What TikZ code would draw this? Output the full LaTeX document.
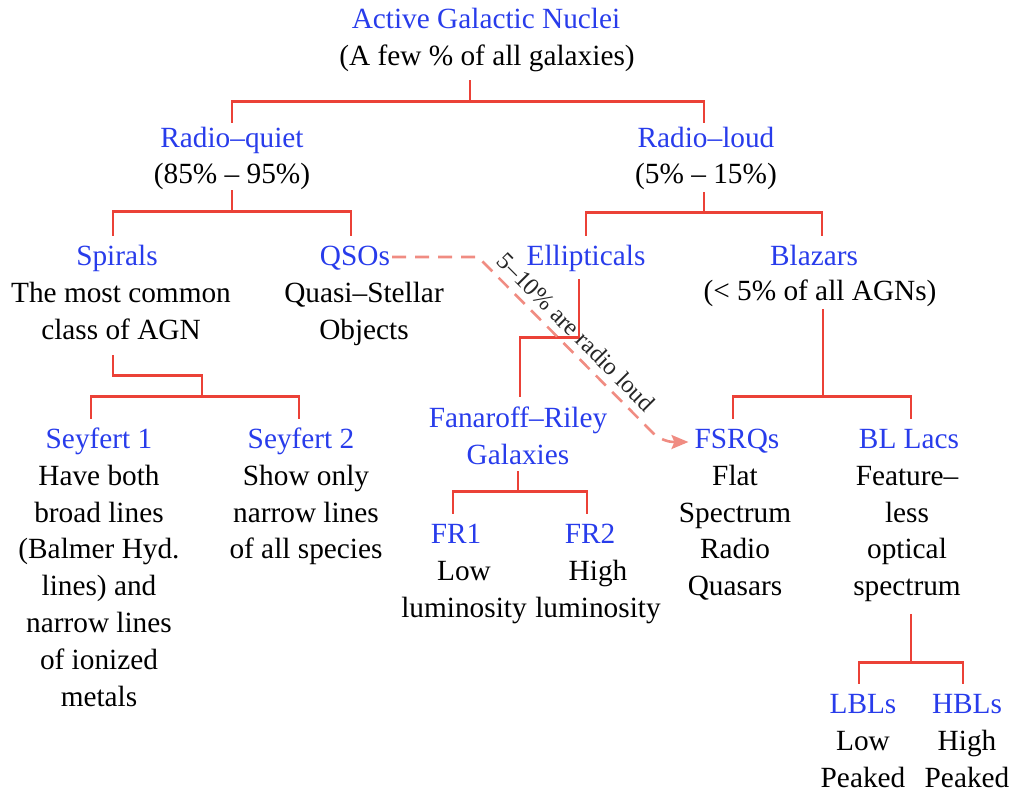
\documentclass[tikz,border=0pt]{standalone}
\usepackage{fontspec}
\setmainfont{Liberation Serif}
\usetikzlibrary{arrows.meta}
\definecolor{agnblue}{RGB}{40,60,235}
\definecolor{agnred}{RGB}{235,65,55}
\definecolor{agnpink}{RGB}{240,140,130}
\newcommand\topstr{\rule{0pt}{25pt}}
\newcommand\botstr{\rule[-7pt]{0pt}{7pt}}
\begin{document}
\begin{tikzpicture}[x=1pt,y=-1pt,
  basetxt/.style={inner sep=0pt, font=\fontsize{29.3}{36.8}\selectfont},
  ttl/.style={basetxt, text=agnblue, anchor=base, text height=29pt, text depth=7pt},
  desc/.style={basetxt, align=center, anchor=north},
  tree/.style={draw=agnred, line width=2.8pt},
  radiolink/.style={draw=agnpink, line width=2.6pt, dash pattern=on 14pt off 9pt,
    -{Stealth[length=17pt,width=14pt,inset=3pt]}},
  linklabel/.style={font=\fontsize{24.5}{28}\selectfont, text=black!85, inner sep=1pt}
]
\useasboundingbox (0,0) rectangle (1013,796);

% level 0
\node[ttl] (agn) at (486,28) {Active Galactic Nuclei};
\node[desc] (agnd) at (487,40) {\topstr(A few \% of all galaxies)\botstr};
% level 1
\node[ttl] (rq) at (232,147) {Radio–quiet};
\node[desc] (rqd) at (232,158) {\topstr(85\% – 95\%)\botstr};
\node[ttl] (rl) at (706,147) {Radio–loud};
\node[desc] (rld) at (706,158) {\topstr(5\% – 15\%)\botstr};
% level 2
\node[ttl] (sp) at (117,265) {Spirals};
\node[desc] (spd) at (121,277) {\topstr The most common\\class of AGN\botstr};
\node[ttl] (qso) at (355,265) {QSOs};
\node[desc] (qsod) at (364,277) {\topstr Quasi–Stellar\\Objects\botstr};
\node[ttl] (ell) at (586,265) {Ellipticals};
\node[ttl] (blz) at (814,265) {Blazars};
\node[desc] (blzd) at (820,275) {\topstr(< 5\% of all AGNs)\botstr};
% level 3
\node[ttl] (sey1) at (99,448) {Seyfert 1};
\node[desc] (sey1d) at (99,460) {\topstr Have both\\broad lines\\(Balmer Hyd.\\lines) and\\narrow lines\\of ionized\\metals\botstr};
\node[ttl] (sey2) at (301,448) {Seyfert 2};
\node[desc] (sey2d) at (306,460) {\topstr Show only\\narrow lines\\of all species\botstr};
\node[desc, text=agnblue] (fr) at (518,402) {\topstr Fanaroff–Riley\\Galaxies\botstr};
\node[ttl] (fsrq) at (737,448) {FSRQs};
\node[desc] (fsrqd) at (735,460) {\topstr Flat\\Spectrum\\Radio\\Quasars\botstr};
\node[ttl] (bll) at (909,448) {BL Lacs};
\node[desc] (blld) at (907,460) {\topstr Feature–\\less\\optical\\spectrum\botstr};
% level 4
\node[ttl] (fr1) at (456,543) {FR1};
\node[desc] (fr1d) at (464,555) {\topstr Low\\luminosity\botstr};
\node[ttl] (fr2) at (590,543) {FR2};
\node[desc] (fr2d) at (598,555) {\topstr High\\luminosity\botstr};
\node[ttl] (lbl) at (863,713) {LBLs};
\node[desc] (lbld) at (863,725) {\topstr Low\\Peaked\botstr};
\node[ttl] (hbl) at (967,713) {HBLs};
\node[desc] (hbld) at (967,725) {\topstr High\\Peaked\botstr};

% tree connectors
\draw[tree] ([xshift=-17pt,yshift=-8pt]agnd.south) -- ++(0,21) coordinate (b1)
  -| ([yshift=-5pt]rq.north) (b1) -| ([xshift=-2pt,yshift=-5pt]rl.north);
\draw[tree] (rqd.south) -- ++(0,21) coordinate (b2)
  -| ([xshift=-4pt]sp.north) (b2) -| ([xshift=-4pt]qso.north);
\draw[tree] ([xshift=-2pt,yshift=-2pt]rld.south) -- ++(0,20) coordinate (b3)
  -| (ell.north) (b3) -| ([xshift=8pt]blz.north);
\draw[tree] ([xshift=-8pt,yshift=-9pt]spd.south) -- ++(0,20) -- ++(89,0) -- ++(0,21) coordinate (b4)
  -| ([xshift=-8pt]sey1.north) (b4) -| ([xshift=-2pt]sey2.north);
\draw[tree] ([xshift=-7pt,yshift=-7pt]ell.south) -- ++(0,58) -| ([xshift=2pt,yshift=5pt]fr.north);
\draw[tree] (fr.south) -- ++(0,20) coordinate (b6)
  -| ([xshift=-3pt]fr1.north) (b6) -| ([xshift=-3pt]fr2.north);
\draw[tree] ([xshift=3pt,yshift=-2pt]blzd.south) -- ++(0,87) coordinate (b7)
  -| ([xshift=-4pt]fsrq.north) (b7) -| ([xshift=2pt]bll.north);
\draw[tree] ([xshift=4pt,yshift=-11pt]blld.south) -- ++(0,49) coordinate (b8)
  -| ([xshift=-4pt]lbl.north) (b8) -| ([xshift=-4pt]hbl.north);

% dashed radio-loud link
\coordinate (k1) at (478,257);
\coordinate (k2) at (662,442);
\draw[radiolink] ([xshift=2pt,yshift=-3pt]qso.east) -- (k1)
  [rounded corners=12pt] -- node[linklabel, sloped, above=6pt, pos=0.47] {5–10\% are radio loud} (k2)
  -- ([xshift=-6pt,yshift=-5pt]fsrq.west);
\end{tikzpicture}
\end{document}
